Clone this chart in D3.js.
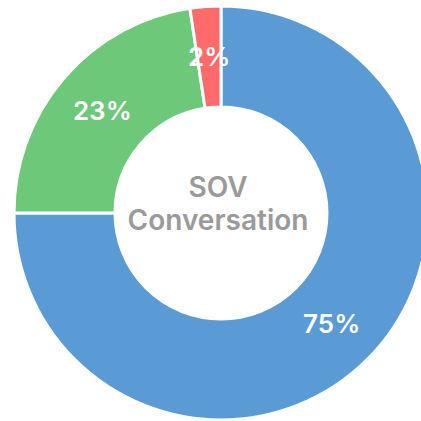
<!DOCTYPE html>
<html>
<head>
<meta charset="utf-8">
<script src="https://cdn.jsdelivr.net/npm/d3@7"></script>
<style>
  html, body { margin: 0; padding: 0; background: #fff; }
  svg { display: block; }
</style>
</head>
<body>
<svg id="chart" width="421" height="421"></svg>
<script>
// Share of voice by segment (percent)
const categories = ["A", "B", "C"];
const shares = [75.0, 22.6, 2.4];
const colors = ["#5b9bd5", "#6dc879", "#ff6b6b"];
const centerLines = ["SOV", "Conversation"];

const cx = 221, cy = 213;
const outerR = 207, innerR = 106;

const svg = d3.select("#chart");
const g = svg.append("g").attr("transform", `translate(${cx},${cy})`);

const pie = d3.pie().sort(null).value(d => d.value);
const data = categories.map((c, i) => ({ cat: c, value: shares[i], color: colors[i] }));
const arcs = pie(data);

const arc = d3.arc().innerRadius(innerR).outerRadius(outerR);

g.selectAll("path.slice")
  .data(arcs)
  .join("path")
  .attr("class", "slice")
  .attr("d", arc)
  .attr("fill", d => d.data.color)
  .attr("stroke", "#fff")
  .attr("stroke-width", 3)
  .attr("stroke-linejoin", "miter");

const fontFamily = "Inter, 'Open Sans', sans-serif";

g.selectAll("text.pct")
  .data(arcs)
  .join("text")
  .attr("class", "pct")
  .attr("transform", d => `translate(${arc.centroid(d)})`)
  .attr("text-anchor", "middle")
  .attr("dominant-baseline", "central")
  .attr("fill", "#fff")
  .attr("font-family", fontFamily)
  .attr("font-weight", 600)
  .attr("font-size", 26)
  .text(d => Math.round(d.data.value) + "%");

// Two-line caption in the hole
g.selectAll("text.center")
  .data(centerLines)
  .join("text")
  .attr("class", "center")
  .attr("text-anchor", "middle")
  .attr("fill", "#9a9a9a")
  .attr("font-family", fontFamily)
  .attr("font-weight", 600)
  .attr("font-size", 28)
  .attr("x", -3)
  .attr("y", (d, i) => i === 0 ? -16 : 17)
  .text(d => d);
</script>
</body>
</html>
